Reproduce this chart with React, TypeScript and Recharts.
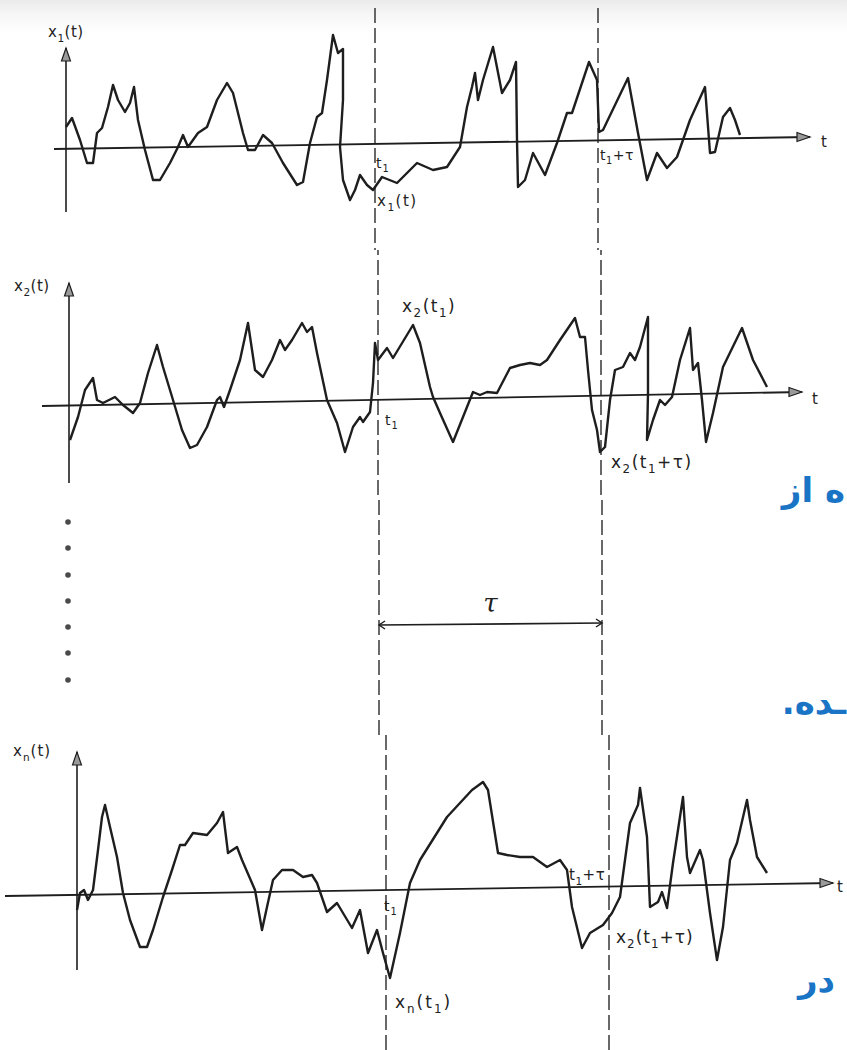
import React from 'react';
import { ComposedChart, Line, Scatter, XAxis, YAxis, ReferenceLine, ReferenceDot } from 'recharts';

// t1 and the lag tau (same time units as the sample functions)
const T1 = 30.9;
const TAU = 22.3;

// sample function x1(t)
const x1T = [0, 0.6, 1.4, 2.1, 2.7, 3.1, 3.6, 4.2, 4.7, 5.2, 5.9, 6.4, 6.8, 7.2, 7.9, 8.7, 9.4, 10.4, 11.2, 11.7, 12.2, 13.2, 14.1, 15.1, 16.1, 16.7, 17.7, 18.2, 18.9, 19.7, 20.6, 21.7, 23.1, 23.7, 24.4, 25.1, 25.6, 26.1, 26.7, 27.2, 27.7, 27.7, 27.4, 27.7, 28.4, 28.9, 29.4, 30.1, 30.7, 31.6, 33.1, 35.1, 36.7, 38.1, 39.4, 40.1, 40.6, 40.9, 41.2, 41.7, 42.7, 43.6, 44.4, 45.0, 45.1, 45.2, 45.9, 46.7, 47.9, 49.1, 50.1, 50.6, 52.3, 53.1, 53.3, 53.7, 56.2, 57.2, 58.1, 59.1, 60.1, 61.1, 62.4, 63.9, 64.4, 64.9, 65.7, 66.4, 66.9, 67.4];
const x1V = [2.2, 3.1, 0.9, -1.4, -1.4, 1.6, 2.1, 4.2, 6.4, 4.9, 3.7, 4.6, 6.2, 2.9, -0.1, -3.1, -3.1, -1.4, 0.2, 1.4, 0.2, 1.6, 2.2, 4.9, 6.6, 5.6, 1.6, -0.1, -0.1, 1.4, 0.6, -1.4, -3.6, -3.3, 0.6, 3.2, 3.6, 6.9, 11.4, 9.6, 10.0, 4.9, 0.2, -3.1, -5.1, -4.1, -2.6, -3.6, -4.1, -2.8, -3.4, -1.4, -2.1, -1.8, 0.2, 4.2, 6.2, 7.6, 4.9, 6.9, 10.2, 5.6, 6.9, 8.7, 0.9, -3.8, -3.1, -0.4, -2.6, 0.6, 3.6, 3.6, 8.7, 6.9, 1.7, 1.9, 7.1, 1.6, -3.1, -0.4, -1.9, -0.8, 2.9, 6.2, -0.4, -0.3, 3.2, 4.1, 2.9, 1.4];

// sample function x2(t)
const x2T = [0.1, 0.9, 1.6, 2.4, 2.8, 3.4, 4.6, 5.4, 6.4, 7.1, 7.9, 8.8, 9.4, 10.4, 11.3, 12.1, 12.8, 13.8, 14.8, 15.1, 15.5, 16.1, 17.1, 17.9, 18.6, 19.4, 20.3, 21.1, 21.6, 22.3, 23.3, 23.8, 24.3, 24.8, 25.8, 26.8, 27.6, 28.4, 29.1, 29.4, 30.1, 30.4, 30.6, 30.9, 31.8, 32.4, 34.4, 35.1, 36.1, 36.4, 37.1, 38.4, 39.4, 40.4, 41.1, 41.8, 42.8, 44.1, 45.1, 46.1, 47.1, 47.8, 49.1, 50.6, 51.1, 51.6, 51.9, 52.3, 52.8, 53.1, 53.6, 54.1, 54.6, 55.4, 56.1, 56.6, 57.1, 57.9, 57.9, 57.8, 58.4, 59.1, 59.6, 60.3, 61.1, 62.1, 62.4, 62.9, 63.3, 63.7, 64.4, 65.4, 67.3, 68.4, 69.8];
const x2V = [-3.5, -1.2, 1.5, 2.7, 0.5, 0.2, 0.8, 0.0, -0.8, 0.2, 3.2, 6.0, 3.8, 0.5, -2.5, -4.3, -4.0, -2.2, 0.5, 0.8, -0.2, 1.5, 4.5, 8.2, 3.5, 2.8, 4.5, 6.5, 5.5, 6.5, 8.2, 7.3, 7.8, 5.2, 0.5, -1.8, -4.7, -2.2, -1.2, -1.7, -0.7, 2.2, 6.2, 4.5, 5.7, 4.7, 8.0, 6.2, 1.8, 0.8, -0.8, -3.7, -1.2, 1.3, 1.0, 1.3, 1.2, 3.7, 4.0, 4.2, 4.0, 4.5, 6.5, 8.7, 6.8, 6.8, 3.5, -0.5, -2.5, -4.7, -4.2, 0.5, 3.5, 3.8, 5.2, 4.5, 5.8, 8.8, 1.2, -3.5, -1.5, 0.5, 0.0, 0.8, 4.5, 7.7, 3.5, 4.2, 0.5, -3.7, -0.8, 3.8, 7.7, 4.5, 1.8];

// sample function xn(t)
const xnT = [0, 0.3, 0.7, 1.1, 1.6, 2.1, 2.5, 2.8, 3.3, 4.0, 4.6, 5.3, 6.3, 7.0, 7.6, 8.6, 9.5, 10.3, 10.8, 11.6, 13.0, 14.0, 14.6, 15.1, 16.0, 16.5, 17.8, 18.5, 19.0, 19.6, 20.5, 21.6, 22.6, 23.5, 24.0, 25.0, 26.0, 27.5, 28.3, 29.1, 30.0, 30.6, 31.3, 32.3, 33.3, 34.3, 37.0, 39.5, 40.6, 41.1, 42.1, 43.0, 44.3, 45.6, 47.0, 48.3, 49.0, 49.5, 50.5, 51.3, 52.6, 53.5, 54.3, 55.3, 56.1, 56.3, 57.0, 57.3, 58.1, 58.5, 59.0, 59.6, 60.6, 61.0, 61.3, 62.3, 62.6, 63.3, 64.0, 64.6, 65.3, 66.0, 67.0, 67.3, 68.0, 69.0];
const xnV = [-1.5, 0.2, 0.5, -0.5, 0.5, 4.5, 7.8, 9.0, 6.8, 3.8, 0.2, -2.5, -5.2, -5.2, -3.5, -0.2, 2.5, 5.0, 5.0, 6.2, 6.0, 7.2, 8.3, 4.2, 4.8, 3.5, 0.5, -3.5, -1.2, 1.5, 2.5, 2.5, 1.8, 2.0, 1.2, -1.7, -0.8, -3.3, -1.5, -5.8, -3.5, -5.8, -8.3, -3.8, 1.2, 3.5, 7.8, 10.5, 11.3, 10.5, 4.2, 4.0, 3.8, 3.8, 2.8, 3.5, 2.5, -1.2, -5.3, -3.8, -3.0, -1.8, -0.2, 7.2, 9.0, 10.7, 5.8, -1.2, -0.7, 0.3, -1.3, 3.2, 9.8, 3.8, 2.2, 4.5, 3.5, -1.8, -6.5, -3.2, 3.5, 5.2, 9.5, 7.5, 3.8, 2.2];

// the vertical "..." between x2 and xn
const ensembleDots = [10.3, 7.7, 5.0, 2.4, -0.2, -2.8, -5.5];

const W = 847;
const PX = 10; // pixels per unit on both axes

const zip = (ts: number[], vs: number[]) => ts.map((t, i) => ({ t, v: vs[i] }));

const INK = '#1e1e1e';
const LABEL_FONT = '"DejaVu Sans", sans-serif';

type LabelSpec = { t: number; v: number; text: string; size?: number; spacing?: number };

const RichText = ({ cx, cy, text, size = 16, spacing = 1 }: any) => {
    const parts = text.split(/(_.)/).filter(Boolean);
    const shift = size * 0.32;
    let down = false;
    return (
        <text x={cx} y={cy} fontFamily={LABEL_FONT} fontSize={size} fill="#222" letterSpacing={spacing}>
            {parts.map((p: string, i: number) => {
                if (p.length === 2 && p[0] === '_') {
                    const el = <tspan key={i} fontSize={size * 0.7} dy={down ? 0 : shift}>{p[1]}</tspan>;
                    down = true;
                    return el;
                }
                const el = <tspan key={i} dy={down ? -shift : 0}>{p}</tspan>;
                down = false;
                return el;
            })}
        </text>
    );
};

const labels = (items: LabelSpec[], key: string) =>
    items.map((l, i) => (
        <ReferenceDot
            key={`${key}-lbl-${i}`}
            x={l.t}
            y={l.v}
            r={0}
            shape={(p: any) => <RichText cx={p.cx} cy={p.cy} text={l.text} size={l.size} spacing={l.spacing} />}
        />
    ));

const xArrow = (p: any) => (
    <polygon
        points={`${p.cx},${p.cy} ${p.cx - 13},${p.cy - 4.5} ${p.cx - 13},${p.cy + 4.5}`}
        fill="#9a9a9a" stroke={INK} strokeWidth={1.2}
    />
);
const yArrow = (p: any) => (
    <polygon
        points={`${p.cx},${p.cy} ${p.cx - 4.5},${p.cy + 13} ${p.cx + 4.5},${p.cy + 13}`}
        fill="#9a9a9a" stroke={INK} strokeWidth={1.2}
    />
);

// axes of one sample function: slightly tilted time axis and the value axis at t = 0
const axes = (key: string, tAxis: [number, number, number, number], vAxis: [number, number]) => [
    <ReferenceLine key={`${key}-ta`} segment={[{ x: tAxis[0], y: tAxis[1] }, { x: tAxis[2], y: tAxis[3] }]} stroke={INK} strokeWidth={1.8} />,
    <ReferenceDot key={`${key}-tah`} x={tAxis[2]} y={tAxis[3]} r={0} shape={xArrow} />,
    <ReferenceLine key={`${key}-va`} segment={[{ x: 0, y: vAxis[0] }, { x: 0, y: vAxis[1] }]} stroke={INK} strokeWidth={1.6} />,
    <ReferenceDot key={`${key}-vah`} x={0} y={vAxis[1]} r={0} shape={yArrow} />,
];

const dashed = (key: string, top?: number) =>
    [T1, T1 + TAU].map((x, i) =>
        top === undefined ? (
            <ReferenceLine key={`${key}-d${i}`} x={x} stroke="#2a2a2a" strokeWidth={1.4} strokeDasharray="15 5" />
        ) : (
            <ReferenceLine key={`${key}-d${i}`} segment={[{ x, y: top }, { x, y: -100 }]} ifOverflow="visible" stroke="#2a2a2a" strokeWidth={1.4} strokeDasharray="15 5" />
        )
    );

const Tile = ({ top, height, axisX, baseY, data, children }: any) => {
    const xDomain = [-axisX / PX, (W - axisX) / PX];
    const yDomain = [(baseY - top - height) / PX, (baseY - top) / PX];
    return (
        <div style={{ position: 'absolute', left: 0, top, width: W, height }}>
            <ComposedChart width={W} height={height} data={data} margin={{ top: 0, right: 0, bottom: 0, left: 0 }}>
                <XAxis type="number" dataKey="t" domain={xDomain} allowDataOverflow hide />
                <YAxis type="number" dataKey="v" domain={yDomain} allowDataOverflow hide />
                {children}
            </ComposedChart>
        </div>
    );
};

const curve = (key: string) => (
    <Line key={key} type="linear" dataKey="v" stroke={INK} strokeWidth={2.4} strokeLinejoin="round" dot={false} activeDot={false} isAnimationActive={false} />
);

const persian = { position: 'absolute', direction: 'rtl', whiteSpace: 'nowrap', fontFamily: LABEL_FONT, fontWeight: 'bold', fontSize: 34, lineHeight: '34px', color: '#1a74c6' } as const;

export default function App() {
    const dotData = ensembleDots.map((v) => ({ t: -0.2, v }));
    return (
        <div style={{ position: 'absolute', left: 0, top: 0, width: W, height: 1050, overflow: 'hidden', background: 'linear-gradient(#ebebeb 0px, #f6f6f6 14px, #ffffff 34px)' }}>
            <style>{'html,body{margin:0;overflow:hidden}'}</style>

            <Tile top={0} height={250} axisX={66} baseY={149} data={zip(x1T, x1V)}>
                {dashed('a', 14.1)}
                {axes('a', [-1.2, 0, 74.4, 1.2], [-6.3, 10.1])}
                {curve('a-line')}
                {labels([
                    { t: -1.8, v: 11.2, text: 'x_1(t)', size: 15, spacing: 0.5 },
                    { t: 31.0, v: -1.9, text: 't_1', size: 14 },
                    { t: 31.1, v: -5.7, text: 'x_1(t)', size: 15, spacing: 1.5 },
                    { t: 53.4, v: -1.1, text: 't_1+τ', size: 14, spacing: 0.5 },
                    { t: 75.5, v: 0.2, text: 't', size: 15 },
                ], 'a')}
            </Tile>

            <Tile top={250} height={245} axisX={69} baseY={405} data={zip(x2T, x2V)}>
                {dashed('b')}
                {axes('b', [-2.7, -0.1, 73.3, 1.3], [-7.8, 12.2])}
                {curve('b-line')}
                {labels([
                    { t: -5.5, v: 11.4, text: 'x_2(t)', size: 15, spacing: 0.5 },
                    { t: 33.3, v: 9.3, text: 'x_2(t_1)', size: 17, spacing: 1.5 },
                    { t: 31.6, v: -2.0, text: 't_1', size: 14 },
                    { t: 54.2, v: -6.3, text: 'x_2(t_1+τ)', size: 17, spacing: 1.5 },
                    { t: 74.3, v: 0.1, text: 't', size: 15 },
                ], 'b')}
            </Tile>

            <Tile top={495} height={240} axisX={70} baseY={625} data={[]}>
                {dashed('m')}
                <ReferenceLine segment={[{ x: T1, y: 0 }, { x: T1 + TAU, y: 0.2 }]} stroke={INK} strokeWidth={1.6} />
                <ReferenceDot x={T1} y={0} r={0} shape={(p: any) => <path d={`M${p.cx + 6},${p.cy - 4} L${p.cx},${p.cy} L${p.cx + 6},${p.cy + 4}`} fill="none" stroke={INK} strokeWidth={1.4} />} />
                <ReferenceDot x={T1 + TAU} y={0.2} r={0} shape={(p: any) => <path d={`M${p.cx - 6},${p.cy - 4} L${p.cx},${p.cy} L${p.cx - 6},${p.cy + 4}`} fill="none" stroke={INK} strokeWidth={1.4} />} />
                <ReferenceDot x={T1 + TAU / 2} y={1.3} r={0} shape={(p: any) => <text x={p.cx} y={p.cy} textAnchor="middle" fontFamily='"DejaVu Serif", serif' fontStyle="italic" fontSize={26} fill="#222">τ</text>} />
                <Scatter data={dotData} dataKey="v" isAnimationActive={false} shape={(p: any) => <circle cx={p.cx} cy={p.cy} r={2.8} fill="#4a4a4a" />} />
            </Tile>

            <Tile top={735} height={315} axisX={77} baseY={895} data={zip(xnT, xnV)}>
                {dashed('c')}
                {axes('c', [-7.2, -0.1, 75.6, 1.2], [-7.5, 14.3])}
                {curve('c-line')}
                {labels([
                    { t: -6.4, v: 13.9, text: 'x_n(t)', size: 15, spacing: 1 },
                    { t: 30.7, v: -1.6, text: 't_1', size: 14 },
                    { t: 31.8, v: -11.3, text: 'x_n(t_1)', size: 17, spacing: 2 },
                    { t: 49.2, v: 1.5, text: 't_1+τ', size: 15, spacing: 0.5 },
                    { t: 53.9, v: -4.8, text: 'x_2(t_1+τ)', size: 17, spacing: 1 },
                    { t: 76.0, v: 0.3, text: 't', size: 15 },
                ], 'c')}
            </Tile>

            <div style={{ ...persian, right: 2, top: 473 }}>ه از</div>
            <div style={{ ...persian, right: 1, top: 685 }}>ـده.</div>
            <div style={{ ...persian, right: 12, top: 963 }}>در</div>
        </div>
    );
}
